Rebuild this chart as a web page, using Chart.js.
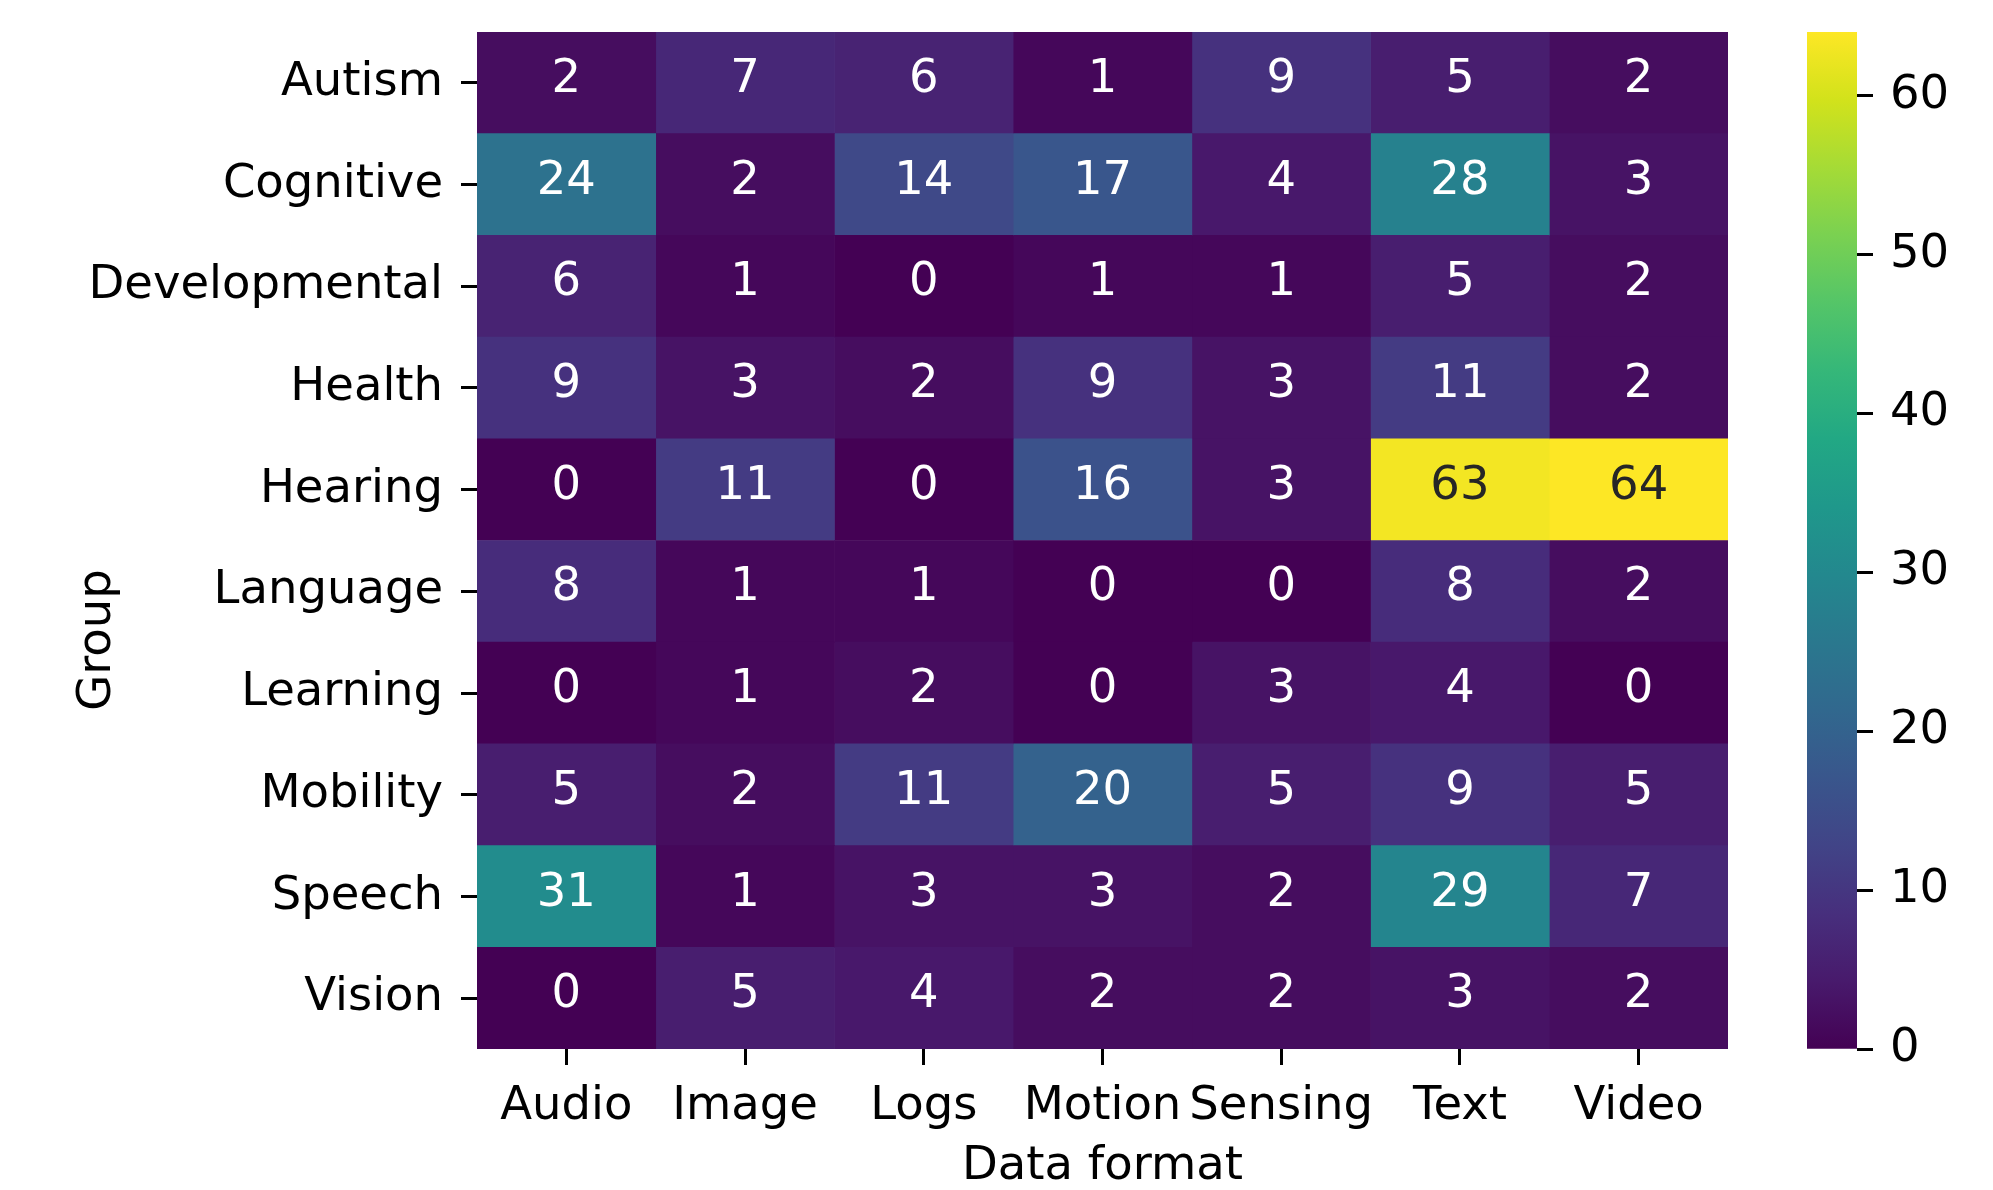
<!DOCTYPE html>
<html>
<head>
<meta charset="utf-8">
<script src="https://cdn.jsdelivr.net/npm/chart.js@4.4.1/dist/chart.umd.min.js"></script>
<style>
  html, body { margin: 0; padding: 0; background: #fff; }
  body { width: 1993px; height: 1190px; position: relative; overflow: hidden; }
  #heat { position: absolute; left: 0; top: 0; }
  #cbar { position: absolute; left: 1760px; top: 0; }
</style>
</head>
<body>
<canvas id="heat" width="1760" height="1190"></canvas>
<canvas id="cbar" width="233" height="1190"></canvas>
<script>
// rows = groups, columns = data formats
const groups = ['Autism', 'Cognitive', 'Developmental', 'Health', 'Hearing',
                'Language', 'Learning', 'Mobility', 'Speech', 'Vision'];
const formats = ['Audio', 'Image', 'Logs', 'Motion', 'Sensing', 'Text', 'Video'];

const autism        = [2, 7, 6, 1, 9, 5, 2];
const cognitive     = [24, 2, 14, 17, 4, 28, 3];
const developmental = [6, 1, 0, 1, 1, 5, 2];
const health        = [9, 3, 2, 9, 3, 11, 2];
const hearing       = [0, 11, 0, 16, 3, 63, 64];
const language      = [8, 1, 1, 0, 0, 8, 2];
const learning      = [0, 1, 2, 0, 3, 4, 0];
const mobility      = [5, 2, 11, 20, 5, 9, 5];
const speech        = [31, 1, 3, 3, 2, 29, 7];
const vision        = [0, 5, 4, 2, 2, 3, 2];

const cbarTicks = [0, 10, 20, 30, 40, 50, 60];

const counts = [autism, cognitive, developmental, health, hearing,
                language, learning, mobility, speech, vision];
const vmin = 0;
const vmax = Math.max(...counts.flat());

// viridis colormap stops
const VIRIDIS = ['#440154', '#481a6c', '#472f7d', '#414487', '#39568c', '#31688e',
                 '#2a788e', '#23888e', '#1f988b', '#22a884', '#35b779', '#54c568',
                 '#7ad151', '#a5db36', '#d2e21b', '#fde725'];

function hexToRgb(h) {
  return [parseInt(h.slice(1, 3), 16), parseInt(h.slice(3, 5), 16), parseInt(h.slice(5, 7), 16)];
}

function viridisRgb(t) {
  t = Math.min(1, Math.max(0, t));
  const p = t * (VIRIDIS.length - 1);
  const i = Math.min(Math.floor(p), VIRIDIS.length - 2);
  const f = p - i;
  const a = hexToRgb(VIRIDIS[i]), b = hexToRgb(VIRIDIS[i + 1]);
  return a.map((c, k) => Math.round(c + (b[k] - c) * f));
}

function cellColor(v) {
  const c = viridisRgb((v - vmin) / (vmax - vmin));
  return 'rgb(' + c.join(',') + ')';
}

// same rule seaborn uses: dark text on light cells
function textColor(v) {
  const lin = viridisRgb((v - vmin) / (vmax - vmin)).map(c => {
    c = c / 255;
    return c <= 0.03928 ? c / 12.92 : Math.pow((c + 0.055) / 1.055, 2.4);
  });
  const lum = 0.2126 * lin[0] + 0.7152 * lin[1] + 0.0722 * lin[2];
  return lum > 0.408 ? '#262626' : '#ffffff';
}

Chart.defaults.font.family = '"DejaVu Sans"';
const bigFont = { family: '"DejaVu Sans"', size: 46.5 };

// stop chart.js from pushing the plot area in for half-label overflow
function noEdgePadding(s) {
  s.paddingTop = 0;
  s.paddingBottom = 0;
  s.paddingLeft = 0;
  s.paddingRight = 0;
}

const cellText = {
  id: 'cellText',
  afterDatasetsDraw(chart) {
    const ctx = chart.ctx;
    ctx.save();
    ctx.font = '46.5px "DejaVu Sans"';
    ctx.textAlign = 'center';
    ctx.textBaseline = 'middle';
    chart.data.datasets.forEach((ds, j) => {
      chart.getDatasetMeta(j).data.forEach((bar, i) => {
        const v = counts[i][j];
        const p = bar.getCenterPoint();
        ctx.fillStyle = textColor(v);
        ctx.fillText(String(v), p.x, p.y - 3);
      });
    });
    ctx.restore();
  }
};

// y label sits below the middle of the axis in the original
const groupLabel = {
  id: 'groupLabel',
  afterDraw(chart) {
    const ctx = chart.ctx;
    ctx.save();
    ctx.font = '46.5px "DejaVu Sans"';
    ctx.fillStyle = '#000';
    ctx.textAlign = 'center';
    ctx.textBaseline = 'middle';
    ctx.translate(98, 640);
    ctx.rotate(-Math.PI / 2);
    ctx.fillText('Group', 0, 0);
    ctx.restore();
  }
};

const heatData = formats.map((f, j) => ({
  label: f,
  data: groups.map(() => [j, j + 1]),
  backgroundColor: counts.map(row => cellColor(row[j])),
  borderWidth: 0,
  grouped: false,
  barPercentage: 1,
  categoryPercentage: 1
}));

new Chart(document.getElementById('heat'), {
  type: 'bar',
  data: { labels: groups, datasets: heatData },
  plugins: [cellText, groupLabel],
  options: {
    indexAxis: 'y',
    responsive: false,
    animation: false,
    layout: { padding: { left: 0, top: 32, right: 32, bottom: 0 } },
    plugins: { legend: { display: false }, tooltip: { enabled: false } },
    scales: {
      x: { type: 'linear', min: 0, max: formats.length, display: false },
      x2: {
        type: 'category',
        labels: formats,
        position: 'bottom',
        offset: true,
        grid: { display: true, drawOnChartArea: false, offset: false, tickLength: 16, tickWidth: 3, tickColor: '#000' },
        border: { display: false },
        ticks: { font: bigFont, color: '#000', padding: 14, maxRotation: 0, autoSkip: false },
        title: { display: true, text: 'Data format', font: { family: '"DejaVu Sans"', size: 46.5, lineHeight: 1.0 }, color: '#000', padding: 0 },
        afterFit: s => { noEdgePadding(s); s.height = 141; }
      },
      y: {
        type: 'category',
        offset: true,
        grid: { display: true, drawOnChartArea: false, offset: false, tickLength: 16, tickWidth: 3, tickColor: '#000' },
        border: { display: false },
        ticks: { font: bigFont, color: '#000', padding: 18, autoSkip: false },
        afterFit: s => { noEdgePadding(s); s.width = 477; }
      }
    }
  }
});

// colorbar
new Chart(document.getElementById('cbar'), {
  type: 'bar',
  data: {
    labels: [''],
    datasets: [{
      data: [[vmin, vmax]],
      backgroundColor: c => {
        const area = c.chart.chartArea;
        if (!area) return null;
        const g = c.chart.ctx.createLinearGradient(0, area.bottom, 0, area.top);
        VIRIDIS.forEach((col, k) => g.addColorStop(k / (VIRIDIS.length - 1), col));
        return g;
      },
      borderWidth: 0,
      barPercentage: 1,
      categoryPercentage: 1
    }]
  },
  options: {
    responsive: false,
    animation: false,
    layout: { padding: { left: 47, top: 32, right: 0, bottom: 141 } },
    plugins: { legend: { display: false }, tooltip: { enabled: false } },
    scales: {
      x: { display: false },
      y: {
        position: 'right',
        min: vmin,
        max: vmax,
        afterBuildTicks: s => { s.ticks = cbarTicks.map(v => ({ value: v })); },
        grid: { drawOnChartArea: false, tickLength: 16, tickWidth: 3, tickColor: '#000' },
        border: { display: false },
        ticks: { font: bigFont, color: '#000', padding: 17 },
        afterFit: s => { noEdgePadding(s); s.width = 136; }
      }
    }
  }
});
</script>
</body>
</html>
